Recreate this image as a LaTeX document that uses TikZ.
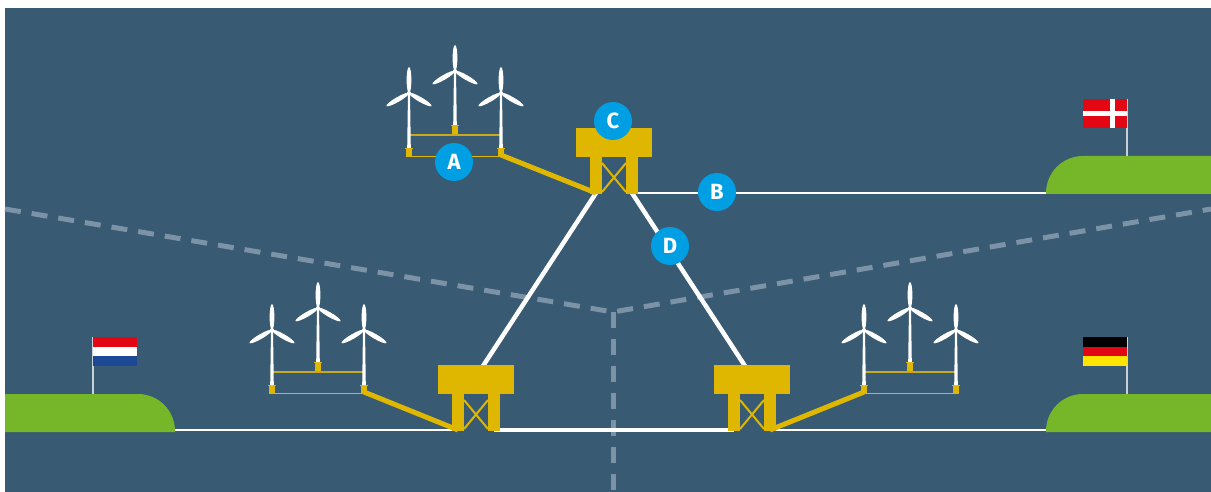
\documentclass[tikz,border=0pt]{standalone}
\usepackage{fontspec}
\setsansfont{Fira Sans}
\usepackage{tikz}
\definecolor{sea}{HTML}{385A72}
\definecolor{land}{HTML}{76B72A}
\definecolor{rig}{HTML}{DFB700}
\definecolor{tagblue}{HTML}{009FE3}
\definecolor{border}{HTML}{7B92A7}
\definecolor{pole}{HTML}{C9D1D8}
\definecolor{dkred}{HTML}{E30613}
\definecolor{nlblue}{HTML}{1D4994}
\definecolor{deyellow}{HTML}{FFE500}
\tikzset{
  tag/.style={circle,fill=tagblue,text=white,minimum size=38pt,inner sep=0pt,font=\sffamily\bfseries\fontsize{22}{22}\selectfont},
  export/.style={white,line width=1.3pt},
  link/.style={white,line width=4.5pt},
  feeder/.style={rig,line width=5pt},
  boundary/.style={border,line width=5pt,dash pattern=on 16pt off 11pt},
  flagpole/.style={pole,line width=1.5pt}
}

\begin{document}
\begin{tikzpicture}[x=1pt,y=-1pt,line cap=butt,line join=miter]
    \useasboundingbox (0,0) rectangle (1211,492);
    \fill[sea] (5,8) rectangle (1211,492);

    % sea borders
    \coordinate (eez) at (613,312);
    \draw[boundary] (5,209) -- (eez) -- (1211,209);
    \draw[boundary] (eez) -- (613,492);

    % platform anchors
    \foreach \p/\x/\y in {ptop/614/128, pleft/476/365, pright/752/365} {
        \coordinate (\p) at (\x,\y);
        \coordinate (\p-legl) at (\x-18,\y+65);
        \coordinate (\p-legr) at (\x+18,\y+65);
        \coordinate (\p-deckl) at (\x-7,\y+1);
        \coordinate (\p-deckr) at (\x+7,\y+1);
    }
    \coordinate (nl-shore) at (175,430);
    \coordinate (de-shore) at (1046,430);
    \coordinate (dk-shore) at (1046,193);

    % export cables to shore
    \draw[export] (nl-shore) -- (pleft-legl);
    \draw[export] (pright-legr) -- (de-shore);
    \draw[export] (ptop-legr) -- (dk-shore);

    % land
    \fill[land] (5,394) -- (138,394) arc[start angle=-90,end angle=0,radius=37] -- (175,432) -- (5,432) -- cycle;
    \fill[land] (1211,394) -- (1083,394) arc[start angle=270,end angle=180,radius=37] -- (1046,432) -- (1211,432) -- cycle;
    \fill[land] (1211,156) -- (1083,156) arc[start angle=270,end angle=180,radius=37] -- (1046,194) -- (1211,194) -- cycle;

    % flags
    \draw[flagpole] (93,337) -- (93,394);
    \fill[dkred] (93,337) rectangle (137,347);
    \fill[white] (93,347) rectangle (137,356);
    \fill[nlblue] (93,356) rectangle (137,366);
    \draw[flagpole] (1127,337) -- (1127,394);
    \fill[black] (1083,337) rectangle (1127,347);
    \fill[dkred] (1083,347) rectangle (1127,356);
    \fill[deyellow] (1083,356) rectangle (1127,366);
    \draw[flagpole] (1127,99) -- (1127,156);
    \fill[dkred] (1083,99) rectangle (1127,128);
    \fill[white] (1110,99) rectangle (1115,128);
    \fill[white] (1083,111) rectangle (1127,116);

    % interconnectors
    \draw[link] (ptop-legl) -- (pleft-deckr);
    \draw[link] (ptop-legr) -- (pright-deckl);
    \draw[link] (pleft-legr) -- (pright-legl);

    % wind farms
    \foreach \g/\x/\b in {ta/409/157, tl/272/394, tr/864/394} {
        \coordinate (\g-left) at (\x,\b-2);
        \coordinate (\g-right) at (\x+92,\b-2);
        \draw[rig!75!gray,line width=1.4pt] (\x,\b-22) -- (\x+92,\b-22);
        \draw[rig,line width=1.4pt] (\x,\b-0.7) -- (\x+92,\b-0.7);
        \foreach \dx/\k/\h in {0/0/64, 46/23/86, 92/0/64} {
            \fill[rig] (\x+\dx-3,\b-\k) rectangle (\x+\dx+3,\b-\k-9);
            \fill[rig] (\x+\dx-3.8,\b-\k-8) rectangle (\x+\dx+3.8,\b-\k-9);
            \fill[white] (\x+\dx-1.8,\b-\k-9) -- (\x+\dx-1,\b-\h) -- (\x+\dx+1,\b-\h) -- (\x+\dx+1.8,\b-\k-9) -- cycle;
            \foreach \a in {90,210,330}
                \fill[white,shift={(\x+\dx,\b-\h)},rotate=\a] (13,0) ellipse (13 and 2.4);
            \fill[white] (\x+\dx,\b-\h) circle (2);
        }
    }
    \draw[feeder] (ta-right) -- (ptop-legl);
    \draw[feeder] (tl-right) -- (pleft-legl);
    \draw[feeder] (tr-left) -- (pright-legr);

    % platforms
    \foreach \p in {ptop, pleft, pright} {
        \fill[rig] ([shift={(-38,0)}]\p) rectangle ([shift={(38,29)}]\p);
        \fill[rig] ([shift={(-24,29)}]\p) rectangle ([shift={(-12,66)}]\p);
        \fill[rig] ([shift={(12,29)}]\p) rectangle ([shift={(24,66)}]\p);
        \draw[rig,line width=2pt] ([shift={(-12,35)}]\p) -- ([shift={(12,64)}]\p)
            ([shift={(12,35)}]\p) -- ([shift={(-12,64)}]\p);
    }

    % labels
    \node[tag] (labA) at (454,162) {A};
    \node[tag] (labB) at (717,192) {B};
    \node[tag] (labC) at (613,121) {C};
    \node[tag] (labD) at (670,246) {D};
\end{tikzpicture}
\end{document}
